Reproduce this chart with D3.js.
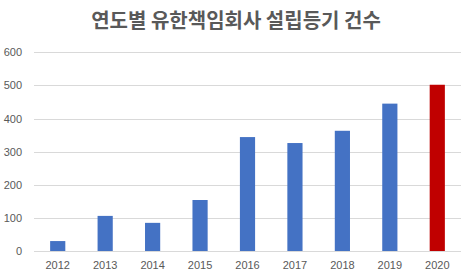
<!DOCTYPE html>
<html>
<head>
<meta charset="utf-8">
<script src="https://cdn.jsdelivr.net/npm/d3@7"></script>
<style>
  body { margin: 0; background: #fff; }
  svg { display: block; font-family: "Noto Sans CJK KR", "Noto Sans", sans-serif; }
</style>
</head>
<body>
<div id="chart"></div>
<script>
var years = ["2012", "2013", "2014", "2015", "2016", "2017", "2018", "2019", "2020"];
var counts = [30, 106, 85, 154, 344, 326, 363, 445, 502];
var barColors = ["#4472C4", "#4472C4", "#4472C4", "#4472C4", "#4472C4", "#4472C4", "#4472C4", "#4472C4", "#C00000"];
var yTicks = [0, 100, 200, 300, 400, 500, 600];
var title = "연도별 유한책임회사 설립등기 건수";

var width = 472, height = 280;
var margins = { top: 52.3, bottom: 29, left: 34, right: 11 };

var svg = d3.select("#chart").append("svg")
    .attr("width", width).attr("height", height);

var x = d3.scaleBand()
    .domain(years)
    .range([margins.left, width - margins.right])
    .paddingInner(0.68).paddingOuter(0.34);

var y = d3.scaleLinear()
    .domain([0, 600])
    .range([height - margins.bottom, margins.top]);

// gridlines
svg.append("g")
    .selectAll("line")
    .data(yTicks)
    .join("line")
    .attr("x1", margins.left).attr("x2", width - margins.right)
    .attr("y1", function(d) { return Math.round(y(d)) + 0.5; })
    .attr("y2", function(d) { return Math.round(y(d)) + 0.5; })
    .attr("stroke", "#D9D9D9").attr("stroke-width", 1);

// y axis labels
var yAxis = svg.append("g")
    .attr("transform", "translate(" + (margins.left - 12) + ",0)")
    .call(d3.axisLeft(y).tickValues(yTicks).tickSize(0).tickPadding(0));
yAxis.select(".domain").remove();
yAxis.selectAll("text")
    .attr("fill", "#595959").style("font-size", "11px")
    .style("font-family", "\"Liberation Sans\", Arial, sans-serif");

// bars
svg.append("g")
    .selectAll("rect")
    .data(counts)
    .join("rect")
    .attr("x", function(d, i) { return x(years[i]); })
    .attr("width", x.bandwidth())
    .attr("y", function(d) { return y(d); })
    .attr("height", function(d) { return y(0) - y(d); })
    .attr("fill", function(d, i) { return barColors[i]; });

// x axis labels
var xAxis = svg.append("g")
    .attr("transform", "translate(0," + (height - margins.bottom) + ")")
    .call(d3.axisBottom(x).tickSize(0).tickPadding(10));
xAxis.select(".domain").remove();
xAxis.selectAll("text")
    .attr("fill", "#595959").style("font-size", "11px")
    .style("font-family", "\"Liberation Sans\", Arial, sans-serif");

// title
svg.append("text")
    .attr("x", 236)
    .attr("y", 28)
    .attr("text-anchor", "middle")
    .attr("fill", "#595959")
    .style("font-size", "20px")
    .style("font-weight", "bold")
    .text(title);
</script>
</body>
</html>
